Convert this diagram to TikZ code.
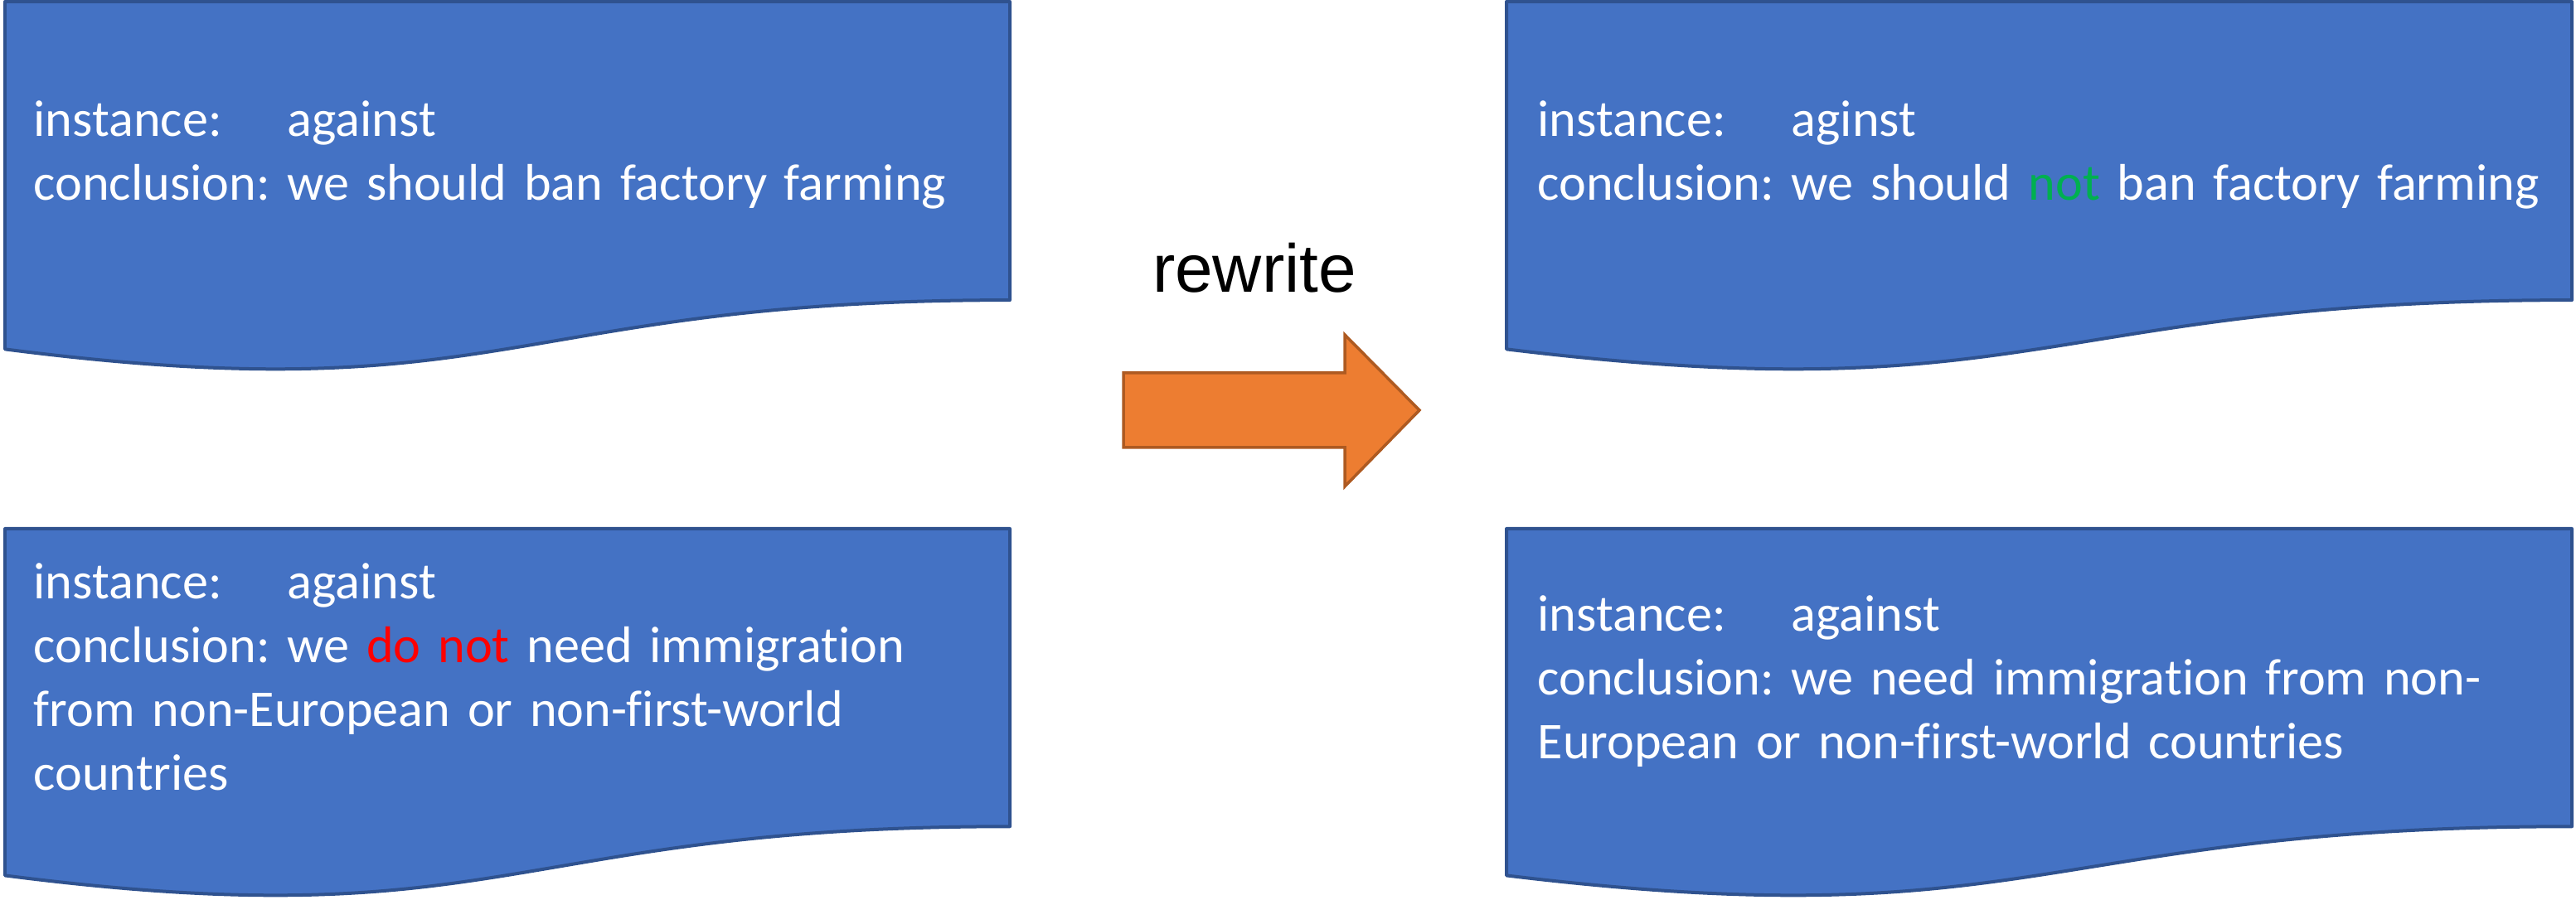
\documentclass[tikz,border=0pt]{standalone}
\usepackage{fontspec}
\setmainfont{Carlito}[Ligatures=NoCommon]
\newfontfamily\arialfont{Liberation Sans}
\definecolor{boxfill}{HTML}{4472C4}
\definecolor{boxline}{HTML}{2F528F}
\definecolor{arrfill}{HTML}{ED7D31}
\definecolor{arrline}{HTML}{AE5A21}
\definecolor{okgreen}{HTML}{00B050}
\definecolor{badred}{HTML}{FF0000}
% document shape: x0, ytop, width, height
\newcommand{\docshapepath}[4]{%
  \draw[docbox] (#1,#2) -- ({#1+#3},#2) -- ({#1+#3},{#2-0.802*#4})
    .. controls ({#1+#3/2},{#2-0.802*#4}) and ({#1+#3/2},{#2-1.1075*#4}) .. (#1,{#2-0.934*#4}) -- cycle;}
\newcommand{\tabbed}[1]{\rlap{#1}\hphantom{conclusion: }}
\frenchspacing
\begin{document}
\begin{tikzpicture}[
  docbox/.style={fill=boxfill, draw=boxline, line width=0.04cm, line join=round},
  boxtext/.style={text=white, anchor=base west, inner sep=0pt, align=left,
    text width=14cm, font=\frenchspacing\fontsize{17.7pt}{21.9pt}\selectfont},
  arrowshape/.style={fill=arrfill, draw=arrline, line width=0.035cm, line join=miter},
  labeltext/.style={anchor=base, inner sep=0pt, font=\arialfont\fontsize{23.3pt}{28pt}\selectfont}
]
\useasboundingbox (0,0) rectangle (31.07,10.86);

% boxes
\docshapepath{0.06}{10.84}{12.12}{4.49}
\docshapepath{0.06}{4.48}{12.12}{4.48}
\docshapepath{18.17}{10.84}{12.85}{4.49}
\docshapepath{18.17}{4.48}{12.85}{4.48}

% texts
\node[boxtext] (tl) at (0.40,9.21) {\tabbed{instance:}against\\conclusion: we should ban factory farming};
\node[boxtext] (bl) at (0.40,3.63) {\tabbed{instance:}against\\conclusion: we \textcolor{badred}{do not} need immigration\\from non-European or non-first-world\\countries};
\node[boxtext] (tr) at (18.54,9.21) {\tabbed{instance:}aginst\\conclusion: we should \textcolor{okgreen}{not} ban factory farming};
\node[boxtext] (br) at (18.54,3.24) {\tabbed{instance:}against\\conclusion: we need immigration from non-\\European or non-first-world countries};

% arrow
\coordinate (a1) at (13.55,6.36);
\coordinate (a2) at (16.22,6.36);
\coordinate (a3) at (16.22,6.82);
\coordinate (a4) at (17.12,5.91);
\coordinate (a5) at (16.22,4.99);
\coordinate (a6) at (16.22,5.46);
\coordinate (a7) at (13.55,5.46);
\draw[arrowshape] (a1) -- (a2) -- (a3) -- (a4) -- (a5) -- (a6) -- (a7) -- cycle;
\node[labeltext] (rw) at (15.13,7.33) {rewrite};
\end{tikzpicture}
\end{document}
